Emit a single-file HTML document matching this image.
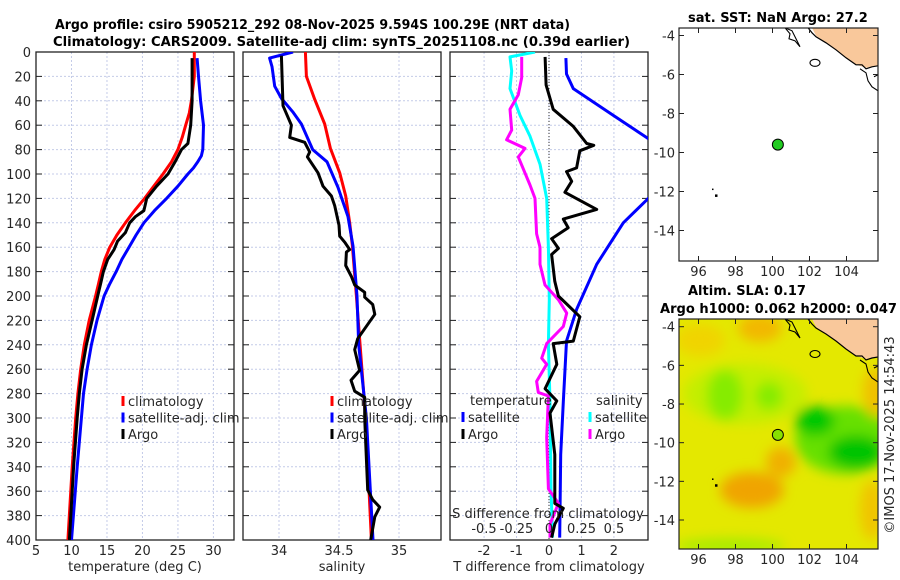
<!DOCTYPE html>
<html><head><meta charset="utf-8">
<style>
html,body{margin:0;padding:0;background:#fff;}
svg{display:block;font-family:"DejaVu Sans","Liberation Sans",sans-serif;}
.tick{font-size:13px;fill:#262626;}
.ttl{font-size:13px;font-weight:bold;fill:#000;}
.leg{font-size:13px;fill:#262626;}
</style></head>
<body>
<svg id="fig" width="900" height="580" viewBox="0 0 900 580" xmlns="http://www.w3.org/2000/svg">
<defs>
<clipPath id="c1"><rect x="36" y="52" width="198" height="488"/></clipPath>
<clipPath id="c2"><rect x="243" y="52" width="198" height="488"/></clipPath>
<clipPath id="c3"><rect x="450" y="52" width="198" height="488"/></clipPath>
<clipPath id="cm1"><rect x="679" y="28" width="199" height="233"/></clipPath>
<clipPath id="cm2"><rect x="679" y="319" width="199" height="230"/></clipPath>
<filter id="blur" x="-50%" y="-50%" width="200%" height="200%"><feGaussianBlur stdDeviation="6"/></filter>
</defs>
<text class="ttl" x="55" y="29" textLength="515" lengthAdjust="spacingAndGlyphs">Argo profile: csiro 5905212_292 08-Nov-2025 9.594S 100.29E (NRT data)</text>
<text class="ttl" x="53" y="46" textLength="577" lengthAdjust="spacingAndGlyphs">Climatology: CARS2009. Satellite-adj clim: synTS_20251108.nc (0.39d earlier)</text>
<g id="panels"></g>
<g id="maps"></g>
<text class="leg" transform="translate(894,435) rotate(-90)" text-anchor="middle" font-size="13">©IMOS 17-Nov-2025 14:54:43</text>
</svg>
<script>
// ---------- data ----------
const depthTicks = [0,20,40,60,80,100,120,140,160,180,200,220,240,260,280,300,320,340,360,380,400];
const tempTicks = [5,10,15,20,25,30];
const salTicks = [34,34.5,35];
const salTickLabels = ["34","34.5","35"];
const tdiffTicks = [-2,-1,0,1,2];
const sdiffTicks = [-0.5,-0.25,0,0.25,0.5];
const sdiffTickLabels = ["-0.5","-0.25","0","0.25","0.5"];

const climTDepth = [0,20,40,50,60,70,80,90,100,110,120,130,140,150,160,170,180,190,200,220,240,260,280,300,340,400];
const climT = [27.3,27.3,26.9,26.6,26.1,25.6,25.0,24.1,22.9,21.6,20.3,18.9,17.6,16.4,15.4,14.7,14.2,13.8,13.4,12.5,11.8,11.3,10.9,10.6,10.1,9.5];
const satTDepth = [5,20,40,60,80,85,90,95,100,110,120,130,140,150,160,170,180,190,200,220,240,260,280,300,340,400];
const satT = [27.7,27.9,28.2,28.6,28.5,28.3,27.8,27.2,26.4,25.0,23.4,21.7,20.2,19.1,18.1,17.1,16.3,15.4,14.6,13.6,12.8,12.2,11.7,11.4,10.8,10.0];
const argoTDepth = [5,40,60,75,80,90,100,110,120,125,130,135,140,148,155,162,170,180,190,200,220,240,260,280,300,340,400];
const argoT = [27.0,27.0,26.8,26.4,25.5,24.6,23.6,22.0,20.6,20.4,20.2,19.0,18.2,17.6,16.5,16.0,15.1,14.5,14.1,13.7,12.9,12.1,11.5,11.1,10.8,10.3,9.7];

const climSDepth = [0,20,39,59,79,99,118,140,159,200,300,400];
const climS = [34.22,34.228,34.298,34.381,34.428,34.506,34.556,34.589,34.612,34.645,34.722,34.77];
const satSDepth = [0,5,12,28,38,49,59,80,90,111,135,159,200,240,300,350,400];
const satS = [34.117,33.922,33.942,33.964,34.02,34.114,34.187,34.281,34.4,34.492,34.575,34.617,34.65,34.664,34.728,34.756,34.783];
const argoSDepth = [3,44,60,70,74,82,86,99,110,118,126,142,151,156,162,164,175,184,191,197,201,207,215,235,244,261,269,278,283,300,318,359,367,373,381,400];
const argoS = [34.02,34.033,34.103,34.089,34.214,34.256,34.237,34.325,34.367,34.437,34.464,34.5,34.506,34.548,34.589,34.562,34.556,34.603,34.631,34.714,34.714,34.781,34.798,34.656,34.631,34.672,34.6,34.631,34.714,34.714,34.722,34.739,34.781,34.839,34.798,34.764];

const satTdDepth = [5,18,30,52,71,85,105,120,140,174,211,237,287,330,398];
const satTd = [0.52,0.54,0.75,1.98,3.06,3.8,3.8,3.06,2.29,1.47,0.85,0.54,0.44,0.36,0.33];
const argoTdDepth = [4,27,47,61,75,76.5,81,95,98,106,115,129,137,144,153,161,166,188,200,217,237,239,256,276,286,296,330,370,374,387,398];
const argoTd = [-0.12,-0.09,0.13,0.75,1.16,1.38,0.95,0.85,0.54,0.70,0.49,1.47,0.44,0.59,0.08,0.29,0.08,0.18,0.29,0.95,0.75,0.13,0.24,-0.12,0.24,0.03,0.18,0.18,0.44,0.18,0.08];
const satSdDepth = [0,4,15.6,30,52,69,92,120,160,203,239,287,358,398];
const satSd = [-0.108,-0.3,-0.287,-0.3,-0.223,-0.146,-0.069,-0.018,-0.005,0.002,-0.005,0.008,0.015,0.028];
const argoSdDepth = [4,21,35,47,64,72,79,86,109,120,149,160,174,191,203,214,225,239,251,256,270,279,282,316,358,370,387,398];
const argoSd = [-0.21,-0.21,-0.236,-0.3,-0.287,-0.326,-0.185,-0.236,-0.146,-0.108,-0.095,-0.069,-0.069,-0.031,0.072,0.136,0.11,-0.018,-0.056,-0.018,-0.095,-0.082,-0.005,-0.018,-0.005,0.072,0.008,0.008];

const lonTicks = [96,98,100,102,104];
const latTicks = [-4,-6,-8,-10,-12,-14];
const argoLon = 100.29, argoLat = -9.594;

// ---------- helpers ----------
const NS = "http://www.w3.org/2000/svg";
function mk(tag, attrs, parent){ const e=document.createElementNS(NS,tag); for(const k in attrs) e.setAttribute(k,attrs[k]); parent.appendChild(e); return e; }
const P = document.getElementById('panels');
const yD = d => 52 + d*1.22;
const panels = [
 {x0:36, lo:5, hi:32.9, clip:'c1', name:'temperature-panel'},
 {x0:243, lo:33.7, hi:35.35, clip:'c2', name:'salinity-panel'},
 {x0:450, lo:-3.05, hi:3.05, clip:'c3', name:'difference-panel'}
];
panels.forEach(p => { p.x = v => p.x0 + (v-p.lo)/(p.hi-p.lo)*198; });
const xS_d = v => 549 + v*130; // S difference scale

panels.forEach((p,i) => {
  const g = mk('g',{},P);
  
  
  depthTicks.forEach(d => {
    const l = mk('line',{x1:p.x0,x2:p.x0+198,y1:yD(d),y2:yD(d),stroke:'#c4cbe8','stroke-width':1,'stroke-dasharray':'2 2'},g);
    
    
  });
  const vt = i==0?tempTicks:(i==1?salTicks:tdiffTicks);
  vt.forEach(v => {
    const l = mk('line',{x1:p.x(v),x2:p.x(v),y1:52,y2:540,stroke:'#c4cbe8','stroke-width':1,'stroke-dasharray':'2 2'},g);
    
    
    const t = mk('text',{x:p.x(v),y:555,'text-anchor':'middle',class:'tick'},g);
    t.textContent = i==1 ? salTickLabels[salTicks.indexOf(v)] : String(v);
    
    
  });
  depthTicks.forEach(d => {
    mk('line',{x1:p.x0,x2:p.x0+6,y1:yD(d),y2:yD(d),stroke:'#222'},g);
    mk('line',{x1:p.x0+198,x2:p.x0+192,y1:yD(d),y2:yD(d),stroke:'#222'},g);
    if(i==0){
      const t = mk('text',{x:31,y:yD(d)+5,'text-anchor':'end',class:'tick'},g);
      t.textContent = String(d);
      
      
    }
  });
  if(i==2){
    const z = mk('line',{x1:p.x(0),x2:p.x(0),y1:52,y2:540,stroke:'#333','stroke-width':1,'stroke-dasharray':'1 2'},g);
    
    
  }
  const fr = mk('rect',{x:p.x0,y:52,width:198,height:488,fill:'none',stroke:'#222','stroke-width':1.3},g);
  
  
});

function line(depths, vals, xf, color, w, clip, name){
  let d='';
  depths.forEach((dd,k)=>{ d += (k?'L':'M') + xf(vals[k]).toFixed(1)+','+yD(dd).toFixed(1); });
  const e = mk('path',{d:d,fill:'none',stroke:color,'stroke-width':w,'stroke-linejoin':'round','clip-path':'url(#'+clip+')'},P);
  
  
}
line(climTDepth, climT, panels[0].x, '#ff0000', 3, 'c1', 'climatology-temperature-line');
line(satTDepth, satT, panels[0].x, '#0000ff', 3, 'c1', 'satellite-temperature-line');
line(argoTDepth, argoT, panels[0].x, '#000000', 3, 'c1', 'argo-temperature-line');
line(climSDepth, climS, panels[1].x, '#ff0000', 3, 'c2', 'climatology-salinity-line');
line(satSDepth, satS, panels[1].x, '#0000ff', 3, 'c2', 'satellite-salinity-line');
line(argoSDepth, argoS, panels[1].x, '#000000', 3, 'c2', 'argo-salinity-line');
line(satTdDepth, satTd, panels[2].x, '#0000ff', 3, 'c3', 'satellite-t-difference-line');
line(satSdDepth, satSd, xS_d, '#00ffff', 3, 'c3', 'satellite-s-difference-line');
line(argoSdDepth, argoSd, xS_d, '#ff00ff', 3, 'c3', 'argo-s-difference-line');
line(argoTdDepth, argoTd, panels[2].x, '#000000', 3, 'c3', 'argo-t-difference-line');

{
  const t = mk('text',{x:548,y:518,'text-anchor':'middle',class:'leg'},P);
  t.textContent = 'S difference from climatology';
  
  
  sdiffTicks.forEach((v,k)=>{
    const s = mk('text',{x:xS_d(v),y:533,'text-anchor':'middle',class:'leg'},P);
    s.textContent = sdiffTickLabels[k];
    
    
  });
}
[['temperature (deg C)',135,'temperature-axis-title'],['salinity',342,'salinity-axis-title'],['T difference from climatology',549,'t-difference-axis-title']].forEach(a=>{
  const t = mk('text',{x:a[1],y:571,'text-anchor':'middle',class:'leg'},P);
  t.textContent = a[0];
  
  
});
function legend(x, y, label, color, name){
  const g = mk('g',{},P);
  
  
  mk('rect',{x:x-1.5,y:y-10,width:3,height:10,fill:color},g);
  const t = mk('text',{x:x+5,y:y,class:'leg'},g);
  t.textContent = label;
}
[[123,'climatology','#ff0000'],[123,'satellite-adj. clim','#0000ff'],[123,'Argo','#000000']].forEach((l,k)=>legend(l[0],406+k*16.5,l[1],l[2],'temperature-legend-entry'));
[[332,'climatology','#ff0000'],[332,'satellite-adj. clim','#0000ff'],[332,'Argo','#000000']].forEach((l,k)=>legend(l[0],406+k*16.5,l[1],l[2],'salinity-legend-entry'));
{
  const t1 = mk('text',{x:470,y:405,class:'leg'},P); t1.textContent='temperature';
  
  
  const t2 = mk('text',{x:596,y:405,class:'leg'},P); t2.textContent='salinity';
  
  
  legend(463,422,'satellite','#0000ff','t-satellite-legend-entry');
  legend(463,439,'Argo','#000000','t-argo-legend-entry');
  legend(590,422,'satellite','#00ffff','s-satellite-legend-entry');
  legend(590,439,'Argo','#ff00ff','s-argo-legend-entry');
}

// ---------- maps ----------
const M = document.getElementById('maps');
const lonX = lon => 698.5 + (lon-96)*18.5;
const maps = [
 {top:28, bot:261, lat:lat => 35.5 + (-4-lat)*19.5, clip:'cm1', name:'sst-map', dy:-291.2},
 {top:319, bot:549, lat:lat => 326.7 + (-4-lat)*19.33, clip:'cm2', name:'sla-map', dy:0}
];
maps.forEach((m,i)=>{
  const g = mk('g',{},M);
  
  
  const cg = mk('g',{'clip-path':'url(#'+m.clip+')'},g);
  if(i==0){
    mk('rect',{x:679,y:m.top,width:199,height:m.bot-m.top,fill:'#ffffff'},cg);
  } else {
    mk('rect',{x:679,y:m.top,width:199,height:m.bot-m.top,fill:'#e4e800'},cg);
    const bg = mk('g',{filter:'url(#blur)'},cg);
    mk('ellipse',{cx:760,cy:328,rx:22,ry:14,fill:'#f2b800'},bg);
    mk('ellipse',{cx:700,cy:340,rx:25,ry:16,fill:'#f0d400'},bg);
    mk('ellipse',{cx:745,cy:394,rx:62,ry:30,fill:'#c4ee00'},bg);
    mk('ellipse',{cx:725,cy:395,rx:18,ry:25,fill:'#86ec00'},bg);
    mk('ellipse',{cx:769,cy:396,rx:14,ry:14,fill:'#86ec00'},bg);
    mk('ellipse',{cx:845,cy:440,rx:50,ry:34,fill:'#66e000'},bg);
    mk('ellipse',{cx:815,cy:421,rx:20,ry:15,fill:'#00c800'},bg);
    mk('ellipse',{cx:856,cy:452,rx:28,ry:17,fill:'#00c400'},bg);
    mk('ellipse',{cx:752,cy:490,rx:32,ry:18,fill:'#f0a400'},bg);
    mk('ellipse',{cx:781,cy:462,rx:15,ry:15,fill:'#f0b000'},bg);
    mk('ellipse',{cx:875,cy:392,rx:12,ry:25,fill:'#f0c000'},bg);
    mk('ellipse',{cx:872,cy:510,rx:12,ry:30,fill:'#f0c400'},bg);
    mk('ellipse',{cx:730,cy:546,rx:55,ry:8,fill:'#a8ec00'},bg);
  }
  const land = mk('g',{transform:'translate(0,'+m.dy+')'},cg);
  mk('path',{d:'M812,319 L816,327 L826,334 L836,341 L846,349 L856,356 L866,359 L878,357 L878,319 Z',fill:'#f9c89b',stroke:'none'},land);
  mk('path',{d:'M808,319 L812,324 L816,328 L826,334 L836,341 L846,349 L856,356 L862,356 L866,360 L872,358 L878,357',fill:'none',stroke:'#000','stroke-width':1.2},land);
  mk('path',{d:'M785,319 L790,325 L789,330 L795,332 L800,338 L796,330 L792,322 Z',fill:'none',stroke:'#000','stroke-width':1.1},land);
  mk('ellipse',{cx:815,cy:354,rx:5,ry:3.5,fill:'none',stroke:'#000','stroke-width':1.1},land);
  mk('path',{d:'M860,360 L866,364 L868,372 L872,378 L878,382 M874,368 L878,366',fill:'none',stroke:'#000','stroke-width':1.1},land);
  mk('rect',{x:712,y:m.lat(-11.85),width:1.5,height:1.5,fill:'#000'},cg);
  mk('rect',{x:715,y:m.lat(-12.15),width:2.5,height:2.5,fill:'#000'},cg);
  const dot = mk('circle',{cx:lonX(argoLon),cy:m.lat(argoLat),r:5.5,fill:i==0?'#22cc22':'#88e000',stroke:'#000','stroke-width':1},g);
  
  
  lonTicks.forEach(lon=>{
    const x=lonX(lon);
    mk('line',{x1:x,x2:x,y1:m.bot,y2:m.bot-5,stroke:'#222'},g);
    mk('line',{x1:x,x2:x,y1:m.top,y2:m.top+5,stroke:'#222'},g);
    const t = mk('text',{x:x,y:m.bot+15,'text-anchor':'middle',class:'tick'},g);
    t.textContent = String(lon);
    
    
  });
  latTicks.forEach(lat=>{
    const y=m.lat(lat);
    mk('line',{x1:679,x2:684,y1:y,y2:y,stroke:'#222'},g);
    mk('line',{x1:878,x2:873,y1:y,y2:y,stroke:'#222'},g);
    const t = mk('text',{x:675,y:y+5,'text-anchor':'end',class:'tick'},g);
    t.textContent = String(lat);
    
    
  });
  mk('rect',{x:679,y:m.top,width:199,height:m.bot-m.top,fill:'none',stroke:'#222','stroke-width':1.2},g);
});
{
  const t1 = mk('text',{x:688,y:22,class:'ttl'},M); t1.textContent='sat. SST: NaN Argo: 27.2';
  
  
  const t2 = mk('text',{x:688,y:295,class:'ttl'},M); t2.textContent='Altim. SLA: 0.17';
  
  
  const t3 = mk('text',{x:660,y:313,class:'ttl',textLength:237,lengthAdjust:'spacingAndGlyphs'},M); t3.textContent='Argo h1000: 0.062 h2000: 0.047';
  
  
}
</script>
</body></html>
